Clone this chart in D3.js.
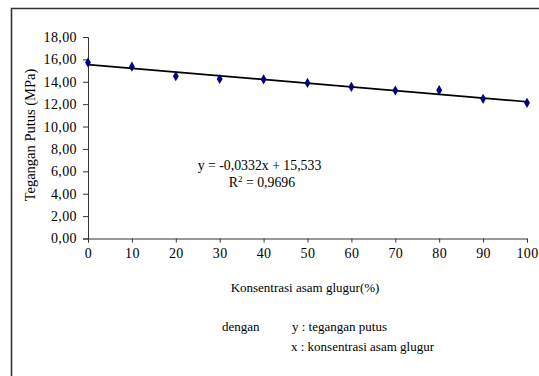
<!DOCTYPE html>
<html><head><meta charset="utf-8">
<script src="https://cdn.jsdelivr.net/npm/d3@7"></script>
<style>body{margin:0;background:#fff}svg{display:block}svg text{font-family:"Liberation Serif","Times New Roman",serif !important;fill:#000}</style>
</head><body>
<script>
const konsentrasi = [0,10,20,30,40,50,60,70,80,90,100];
const tegangan = [15.72,15.35,14.5,14.25,14.22,13.9,13.55,13.22,13.25,12.48,12.12];
const yTicks = [0,2,4,6,8,10,12,14,16,18];
const xTicks = [0,10,20,30,40,50,60,70,80,90,100];
const slope = -0.0332, intercept = 15.533;

const W=539,H=376;
const svg=d3.select("body").append("svg").attr("width",W).attr("height",H);
svg.append("path").attr("d",`M11.5,${H+5}V8.5H${W+5}`).attr("fill","none").attr("stroke","#333").attr("stroke-width",1.6);

const x=d3.scaleLinear().domain([0,100]).range([88,527]);
const y=d3.scaleLinear().domain([0,18]).range([238.5,37]);

const fmt=d=>d.toFixed(2).replace(".",",");
const gy=svg.append("g").attr("transform","translate(88,0)")
  .call(d3.axisLeft(y).tickValues(yTicks).tickFormat(fmt).tickSize(5).tickPadding(6));
const gx=svg.append("g").attr("transform","translate(0,238.5)")
  .call(d3.axisBottom(x).tickValues(xTicks).tickFormat(d=>d).tickSize(4).tickPadding(6));
[gx,gy].forEach(g=>{g.attr("font-family",null).attr("font-size",null);
  g.select(".domain").attr("stroke","#333");g.selectAll(".tick line").attr("stroke","#333");
  g.selectAll("text").attr("font-size",14).attr("letter-spacing",0.4).attr("fill","#000");});

svg.append("line").attr("x1",x(0)).attr("x2",x(100)).attr("y1",y(intercept)).attr("y2",y(intercept+slope*100))
  .attr("stroke","#000").attr("stroke-width",1.6);

const sym=d3.symbol().type(d3.symbolDiamond).size(30);
svg.selectAll(".pt").data(konsentrasi).enter().append("path")
  .attr("d",sym).attr("transform",(d,i)=>`translate(${x(d)},${y(tegangan[i])})`).attr("fill","#000080");

svg.append("text").attr("x",259.5).attr("y",170).attr("text-anchor","middle").attr("font-size",13.8).text("y = -0,0332x + 15,533");
const r=svg.append("text").attr("x",262).attr("y",187).attr("text-anchor","middle").attr("font-size",13.8);
r.append("tspan").text("R");
r.append("tspan").attr("dy",-5).attr("font-size",9).text("2");
r.append("tspan").attr("dy",5).text(" = 0,9696");

svg.append("text").attr("transform","translate(35,135) rotate(-90)").attr("text-anchor","middle").attr("font-size",14.5).text("Tegangan Putus (MPa)");
svg.append("text").attr("x",305).attr("y",292).attr("text-anchor","middle").attr("font-size",13).text("Konsentrasi asam glugur(%)");
svg.append("text").attr("x",222).attr("y",331).attr("font-size",13).text("dengan");
svg.append("text").attr("x",292).attr("y",331).attr("font-size",13).text("y : tegangan putus");
svg.append("text").attr("x",291).attr("y",351).attr("font-size",13).text("x : konsentrasi asam glugur");
</script></body></html>
